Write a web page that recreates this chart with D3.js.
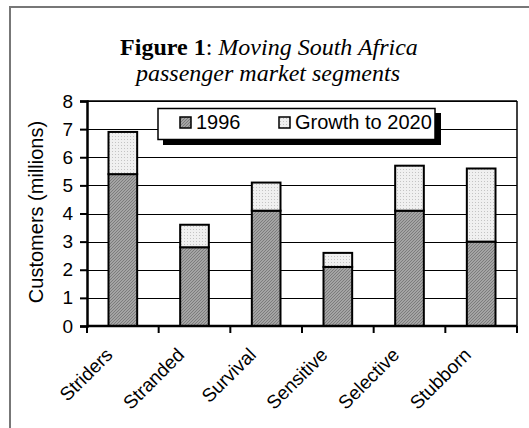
<!DOCTYPE html>
<html lang="en">
<head>
    <meta charset="UTF-8">
    <title>Figure 1</title>
    <script type="text/javascript" src="https://cdn.jsdelivr.net/npm/d3@7"></script>
    <style type="text/css">
        body { margin: 0; background: #fff; }
        text { font-family: Arial, "Liberation Sans", sans-serif; }
    </style>
</head>
<body>
    <script type="text/javascript">
        //Width and height
        var w = 529;
        var h = 428;

        var categories = ["Striders", "Stranded", "Survival", "Sensitive", "Selective", "Stubborn"];
        var base1996 = [5.4, 2.8, 4.1, 2.1, 4.1, 3.0];
        var growth2020 = [1.5, 0.8, 1.0, 0.5, 1.6, 2.6];
        var yTicks = [0, 1, 2, 3, 4, 5, 6, 7, 8];
        var seriesNames = ["1996", "Growth to 2020"];

        //Plot area edges
        var plotL = 87, plotR = 517, plotT = 101, plotB = 326;

        var xScale = d3.scaleBand()
            .domain(categories)
            .range([plotL, plotR])
            .paddingInner(0.6)
            .paddingOuter(0.3);

        var yScale = d3.scaleLinear()
            .domain([0, 8])
            .range([plotB, plotT]);

        var svg = d3.select("body")
            .append("svg")
            .attr("width", w)
            .attr("height", h);

        //Patterns for the two fills
        var defs = svg.append("defs");
        var p1 = defs.append("pattern")
            .attr("id", "hatch")
            .attr("patternUnits", "userSpaceOnUse")
            .attr("width", 3).attr("height", 3);
        p1.append("rect").attr("width", 3).attr("height", 3).attr("fill", "#a4a4a4");
        p1.append("path").attr("d", "M0,3 L3,0 M-1,1 L1,-1 M2,4 L4,2")
            .attr("stroke", "#7c7c7c").attr("stroke-width", 1);

        var p2 = defs.append("pattern")
            .attr("id", "dots")
            .attr("patternUnits", "userSpaceOnUse")
            .attr("width", 3).attr("height", 3);
        p2.append("rect").attr("width", 3).attr("height", 3).attr("fill", "#f0f0f0");
        p2.append("rect").attr("x", 1).attr("y", 1).attr("width", 1).attr("height", 1).attr("fill", "#c4c4c4");

        var fills = ["url(#hatch)", "url(#dots)"];

        //Outer frame (left and top edges only visible)
        svg.append("path")
            .attr("d", "M10," + h + " L10,7 L" + w + ",7")
            .attr("fill", "none")
            .attr("stroke", "#777")
            .attr("stroke-width", 2);

        //Title
        var title1 = svg.append("text")
            .attr("x", 269).attr("y", 55)
            .attr("text-anchor", "middle")
            .style("font-family", "'Liberation Serif', 'Times New Roman', serif")
            .style("font-size", "24px");
        title1.append("tspan").attr("font-weight", "bold").text("Figure 1");
        title1.append("tspan").text(": ");
        title1.append("tspan").attr("font-style", "italic").text("Moving South Africa");

        svg.append("text")
            .attr("x", 268).attr("y", 81)
            .attr("text-anchor", "middle")
            .style("font-family", "'Liberation Serif', 'Times New Roman', serif")
            .style("font-size", "24px")
            .style("font-style", "italic")
            .text("passenger market segments");

        //Gridlines
        svg.selectAll("line.grid")
            .data(yTicks.slice(1))
            .enter()
            .append("line")
            .attr("class", "grid")
            .attr("x1", plotL).attr("x2", plotR)
            .attr("y1", function(d) { return Math.round(yScale(d)) + 0.5; })
            .attr("y2", function(d) { return Math.round(yScale(d)) + 0.5; })
            .attr("stroke", "#000")
            .attr("stroke-width", 1);

        //Top and right border
        svg.append("line")
            .attr("x1", plotR).attr("x2", plotR)
            .attr("y1", plotT).attr("y2", plotB)
            .attr("stroke", "#000").attr("stroke-width", 1.5);
        svg.append("line")
            .attr("x1", plotL).attr("x2", plotR)
            .attr("y1", plotT).attr("y2", plotT)
            .attr("stroke", "#000").attr("stroke-width", 1.5);

        //Stack the data
        var rows = categories.map(function(c, i) {
            return { cat: c, s0: base1996[i], s1: growth2020[i] };
        });
        var stack = d3.stack().keys(["s0", "s1"])(rows);

        var groups = svg.selectAll("g.series")
            .data(stack)
            .enter()
            .append("g")
            .attr("class", "series")
            .attr("fill", function(d, i) { return fills[i]; });

        groups.selectAll("rect")
            .data(function(d) { return d; })
            .enter()
            .append("rect")
            .attr("x", function(d) { return xScale(d.data.cat); })
            .attr("y", function(d) { return yScale(d[1]); })
            .attr("width", xScale.bandwidth())
            .attr("height", function(d) { return yScale(d[0]) - yScale(d[1]); })
            .attr("stroke", "#000")
            .attr("stroke-width", 2);

        //Y axis
        var yAxis = d3.axisLeft(yScale)
            .tickValues(yTicks)
            .tickSize(7)
            .tickPadding(7)
            .tickFormat(d3.format("d"));
        var gy = svg.append("g")
            .attr("transform", "translate(" + plotL + ",0)")
            .call(yAxis);
        gy.select(".domain").attr("stroke-width", 2.5);
        gy.selectAll(".tick line").attr("stroke-width", 2);
        gy.selectAll("text")
            .style("font-size", "19px")
            .style("font-family", "Arial, 'Liberation Sans', sans-serif")
            .attr("fill", "#000");

        //X axis, ticks at category boundaries
        var bounds = d3.range(categories.length + 1).map(function(i) {
            return plotL + i * (plotR - plotL) / categories.length;
        });
        svg.append("line")
            .attr("x1", plotL).attr("x2", plotR)
            .attr("y1", plotB).attr("y2", plotB)
            .attr("stroke", "#000").attr("stroke-width", 2.5);
        svg.selectAll("line.xtick")
            .data(bounds)
            .enter()
            .append("line")
            .attr("class", "xtick")
            .attr("x1", function(d) { return d; }).attr("x2", function(d) { return d; })
            .attr("y1", plotB).attr("y2", plotB + 7)
            .attr("stroke", "#000").attr("stroke-width", 2);

        svg.selectAll("text.xlab")
            .data(categories)
            .enter()
            .append("text")
            .attr("class", "xlab")
            .attr("text-anchor", "end")
            .attr("transform", function(d) {
                var cx = xScale(d) + xScale.bandwidth() / 2 - 9;
                return "translate(" + cx + "," + (plotB + 30) + ") rotate(-45)";
            })
            .style("font-size", "19px")
            .text(function(d) { return d; });

        //Y axis label
        svg.append("text")
            .attr("transform", "translate(43,212) rotate(-90)")
            .attr("text-anchor", "middle")
            .style("font-size", "20px")
            .text("Customers (millions)");

        //Legend
        var lg = svg.append("g");
        lg.append("rect")
            .attr("x", 163).attr("y", 113)
            .attr("width", 278).attr("height", 32)
            .attr("fill", "#000");
        lg.append("rect")
            .attr("x", 158).attr("y", 108.5)
            .attr("width", 277).attr("height", 31)
            .attr("fill", "#fff")
            .attr("stroke", "#000")
            .attr("stroke-width", 1.5);

        var legX = [180, 279];
        seriesNames.forEach(function(name, i) {
            lg.append("rect")
                .attr("x", legX[i]).attr("y", 117)
                .attr("width", 11).attr("height", 11)
                .attr("fill", fills[i])
                .attr("stroke", "#000")
                .attr("stroke-width", 1.5);
            lg.append("text")
                .attr("x", legX[i] + 16).attr("y", 129)
                .style("font-size", "20px")
                .attr("fill", "#000")
                .text(name);
        });
    </script>
</body>
</html>
